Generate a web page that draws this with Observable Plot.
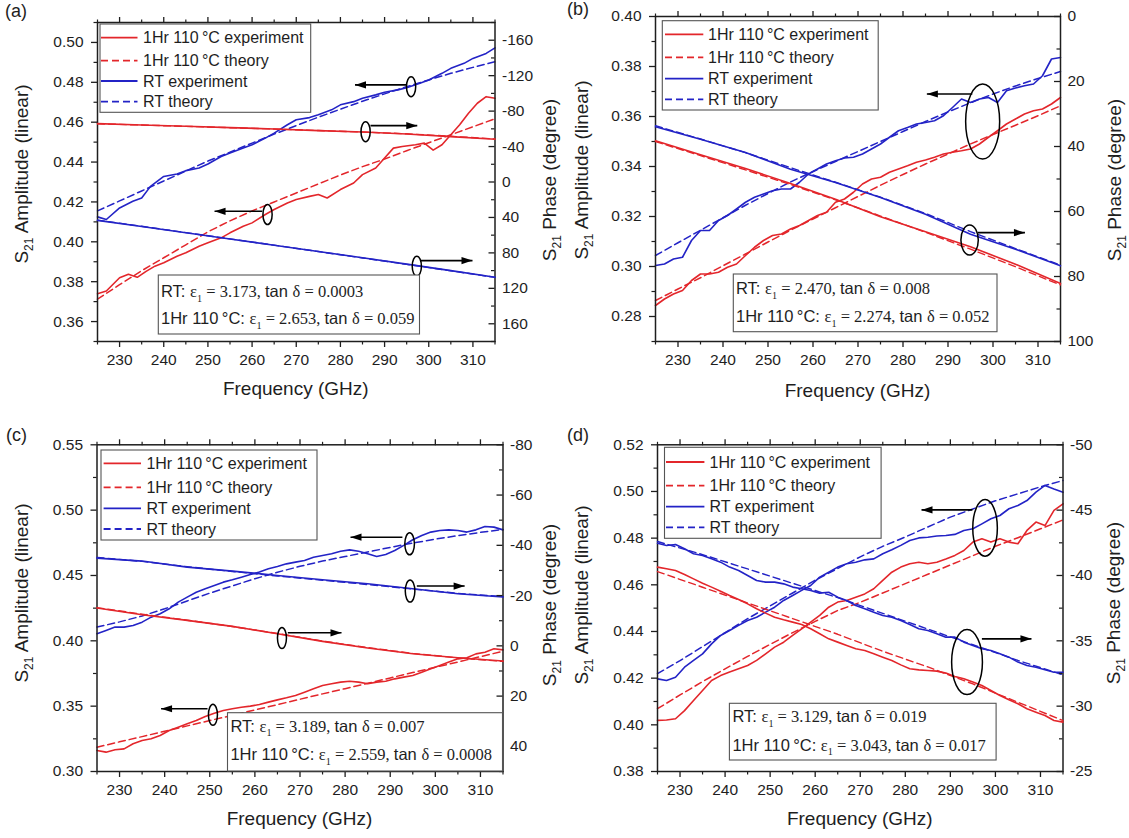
<!DOCTYPE html>
<html><head><meta charset="utf-8">
<script src="https://cdn.jsdelivr.net/npm/d3@7"></script>
<script src="https://cdn.jsdelivr.net/npm/@observablehq/plot@0.6"></script>
<style>
html,body{margin:0;padding:0;background:#fff;}
#root{position:relative;width:1129px;height:838px;overflow:hidden;background:#fff;}
#root svg{position:absolute;}
</style></head>
<body><div id="root"></div>
<script>
// ---------------- data ----------------
const freq2 = [225,227,229,231,233,235,237,239,241,243,245,247,249,251,253,255,257,259,261,263,265,267,269,271,273,275,277,279,281,283,285,287,289,291,293,295,297,299,301,303,305,307,309,311,313,315];
const freq5 = [225,230,235,240,245,250,255,260,265,270,275,280,285,290,295,300,305,310,315];
const freq10 = [225,235,245,255,265,275,285,295,305,315];

// panel (a)
const aRtExpF = [225,227,230,233,235,237,240,243,245,248,250,253,255,258,260,263,265,268,270,273,275,278,280,283,285,288,290,293,295,298,300,303,305,308,310,313,315];
const aRtAmpExp = [0.4125,0.4112,0.417,0.4203,0.422,0.4278,0.4328,0.434,0.4357,0.437,0.439,0.4428,0.4445,0.447,0.4487,0.452,0.4545,0.4587,0.4612,0.4623,0.4637,0.4662,0.4687,0.4703,0.472,0.4737,0.475,0.4762,0.4773,0.4795,0.4812,0.4845,0.487,0.4895,0.492,0.4945,0.4973];
const aHtExpF = [225,227,230,232,234,236,238,240,243,245,248,250,253,255,258,260,263,265,268,270,273,275,277,280,283,285,288,290,292,294,297,299,301,303,305,307,309,311,313,315];
const aHtAmpExp = [0.374,0.3753,0.382,0.3837,0.3822,0.3852,0.3878,0.3895,0.3928,0.3945,0.3978,0.3995,0.402,0.4045,0.4078,0.4095,0.4137,0.4162,0.4195,0.4212,0.4228,0.4237,0.422,0.4262,0.4295,0.4337,0.437,0.442,0.447,0.4478,0.4487,0.4495,0.446,0.4487,0.4537,0.4587,0.4645,0.4695,0.4728,0.472];
const aRtAmpThe = [0.4155,0.4205,0.4255,0.4305,0.4355,0.4405,0.445,0.4495,0.454,0.4583,0.4625,0.4665,0.4705,0.4742,0.4778,0.4812,0.4845,0.4875,0.4903];
const aHtAmpThe = [0.3712,0.3785,0.3855,0.392,0.3985,0.405,0.4105,0.4155,0.42,0.4245,0.429,0.4335,0.4377,0.4415,0.4457,0.4497,0.4537,0.4577,0.4617];
const aRtPhaExp = [43.3,50.2,57.2,64.3,71.3,78.4,85.5,92.7,100.0,107.4];
const aRtPhaThe = [43.0,50.0,57.1,64.2,71.3,78.5,85.7,92.9,100.2,107.6];
const aHtPhaExp = [-65.85,-64.35,-62.85,-61.35,-59.85,-57.97,-56.47,-54.22,-51.22,-48.22];
const aHtPhaThe = [-65.7,-64.3,-62.8,-61.3,-59.8,-58.1,-56.4,-54.4,-51.6,-48.6];

// panel (b)
const bRtAmpExp = [0.3004,0.301,0.303,0.3037,0.3104,0.3144,0.3144,0.3184,0.3204,0.323,0.3257,0.3277,0.329,0.3303,0.331,0.331,0.3337,0.337,0.339,0.341,0.3423,0.3434,0.3437,0.345,0.347,0.349,0.3517,0.3543,0.3556,0.357,0.3576,0.3583,0.3603,0.3636,0.367,0.3656,0.367,0.3676,0.3656,0.3703,0.3714,0.3723,0.373,0.3763,0.383,0.3836];
const bHtAmpExp = [0.2844,0.287,0.289,0.2904,0.2944,0.297,0.297,0.2977,0.2997,0.301,0.3044,0.3077,0.3104,0.3124,0.313,0.315,0.3164,0.3184,0.3204,0.3217,0.3257,0.327,0.3297,0.333,0.335,0.3357,0.3377,0.339,0.3403,0.3417,0.3426,0.3437,0.345,0.3457,0.3463,0.347,0.349,0.3517,0.3543,0.357,0.359,0.361,0.3623,0.363,0.365,0.3676];
const bRtAmpThe = [0.3044,0.3095,0.3145,0.3195,0.3245,0.3292,0.3338,0.338,0.342,0.346,0.35,0.354,0.358,0.3618,0.3655,0.369,0.3722,0.3752,0.378];
const bHtAmpThe = [0.2864,0.291,0.2955,0.3003,0.305,0.3098,0.3145,0.319,0.3235,0.328,0.3325,0.3368,0.341,0.345,0.349,0.3528,0.3565,0.3603,0.3643];
const bRtPhaExp = [33.95,37.74,41.85,46.97,51.08,55.69,60.82,66.97,71.59,76.72];
const bRtPhaThe = [33.6,37.7,41.9,46.5,51.0,55.6,60.6,66.2,71.4,76.5];
const bHtPhaExp = [38.26,42.56,46.77,51.38,56.21,61.64,66.26,70.87,76.21,82.15];
const bHtPhaThe = [38.5,42.8,47.2,51.7,56.4,61.4,66.4,71.6,77.0,82.6];

// panel (c)
const cRtAmpExp = [0.4054,0.4079,0.4105,0.4105,0.4117,0.4143,0.4181,0.4207,0.4245,0.4296,0.4334,0.4372,0.4398,0.4423,0.4449,0.4467,0.4487,0.4508,0.4526,0.4551,0.4569,0.4589,0.4602,0.4615,0.464,0.4653,0.4666,0.4686,0.4696,0.4686,0.4666,0.4645,0.4661,0.4691,0.473,0.4773,0.4806,0.4832,0.4844,0.4849,0.4844,0.4832,0.4849,0.4875,0.487,0.4849];
const cHtAmpExp = [0.3161,0.3148,0.3166,0.3173,0.3212,0.3237,0.325,0.3276,0.3314,0.3339,0.3365,0.339,0.3421,0.3446,0.3467,0.348,0.3492,0.35,0.3513,0.3531,0.3548,0.3564,0.3582,0.3607,0.3633,0.3658,0.3671,0.3684,0.3691,0.3684,0.3671,0.3684,0.3691,0.3709,0.3722,0.3735,0.376,0.3786,0.3811,0.3837,0.3862,0.387,0.39,0.3913,0.3939,0.3931];
const cRtAmpThe = [0.4105,0.4145,0.419,0.4245,0.4305,0.4365,0.442,0.4475,0.4525,0.457,0.461,0.4645,0.468,0.4715,0.4748,0.4778,0.4805,0.483,0.4852];
const cHtAmpThe = [0.3186,0.3227,0.3267,0.3308,0.3349,0.339,0.343,0.3471,0.3512,0.3553,0.3594,0.3634,0.3675,0.3716,0.3757,0.3797,0.3838,0.3879,0.392];
const cRtPhaExp = [-34.92,-33.73,-31.34,-29.75,-28.02,-26.3,-24.71,-22.72,-20.73,-19.41];
const cRtPhaThe = [-35.2,-33.6,-31.5,-29.6,-27.8,-26.1,-24.4,-22.6,-20.9,-19.6];
const cHtPhaExp = [-15.03,-12.38,-10.12,-7.74,-4.82,-1.77,0.88,3.13,4.73,6.05];
const cHtPhaThe = [-15.2,-12.6,-10.2,-7.7,-4.9,-1.9,0.7,3.0,4.8,6.2];

// panel (d)
const dRtAmpExp = [0.4197,0.419,0.4204,0.4247,0.4276,0.4304,0.4347,0.4383,0.4404,0.4426,0.4447,0.4461,0.4483,0.4504,0.4533,0.4554,0.4576,0.4597,0.4633,0.4654,0.4676,0.469,0.4697,0.4707,0.4711,0.4733,0.475,0.4769,0.479,0.4801,0.4804,0.4809,0.4811,0.4816,0.4833,0.484,0.4861,0.4883,0.4897,0.4926,0.494,0.4961,0.4997,0.5026,0.5011,0.4997];
const dHtAmpExp = [0.4019,0.4021,0.4026,0.4061,0.4104,0.4147,0.419,0.4211,0.4226,0.424,0.4254,0.4276,0.4304,0.4333,0.4354,0.4383,0.4411,0.444,0.4469,0.4504,0.4526,0.4533,0.4547,0.4561,0.4583,0.4619,0.4654,0.4676,0.469,0.4697,0.469,0.4697,0.4711,0.4726,0.4747,0.4783,0.4797,0.4783,0.4797,0.4783,0.4776,0.4833,0.4869,0.4854,0.4919,0.4947];
const dRtAmpThe = [0.4219,0.4275,0.4335,0.4395,0.4455,0.451,0.4565,0.462,0.467,0.472,0.4765,0.4805,0.4848,0.489,0.4925,0.496,0.499,0.502,0.5047];
const dHtAmpThe = [0.4069,0.4128,0.4185,0.424,0.4293,0.4345,0.4395,0.4443,0.449,0.4525,0.4565,0.4605,0.4645,0.4685,0.4725,0.4765,0.4802,0.484,0.4878];
const dRtPhaExp = [-42.47,-42.30,-42.37,-42.04,-41.66,-41.53,-41.28,-41.02,-40.64,-40.38,-40.00,-39.62,-39.49,-39.49,-39.36,-39.11,-38.98,-38.85,-38.65,-38.72,-38.34,-38.09,-37.70,-37.45,-37.19,-36.94,-36.81,-36.56,-36.25,-35.92,-35.79,-35.54,-35.28,-35.28,-34.90,-34.64,-34.39,-34.26,-34.01,-33.75,-33.37,-33.11,-32.98,-32.78,-32.60,-32.60];
const dRtPhaThe = [-42.6,-41.6,-40.5,-39.4,-38.3,-37.1,-35.9,-34.7,-33.5,-32.4];
const dHtPhaExp = [-40.64,-40.51,-40.38,-40.08,-39.74,-39.41,-39.11,-38.80,-38.47,-38.16,-37.83,-37.45,-37.12,-36.81,-36.61,-36.43,-36.25,-35.92,-35.54,-35.15,-34.90,-34.64,-34.39,-34.26,-34.01,-33.75,-33.49,-33.16,-32.86,-32.78,-32.73,-32.68,-32.53,-32.27,-32.09,-31.84,-31.58,-31.20,-30.82,-30.49,-30.18,-29.80,-29.54,-29.29,-28.90,-28.78];
const dHtPhaThe = [-40.3,-39.1,-37.9,-36.7,-35.5,-34.2,-33.0,-31.7,-30.3,-28.9];

// tick values
const xMajor = [230,240,250,260,270,280,290,300,310];
const xMinor = [225,235,245,255,265,275,285,295,305,315];
const aAmpMajor = [0.36,0.38,0.40,0.42,0.44,0.46,0.48,0.50];
const aAmpMinor = [0.35,0.37,0.39,0.41,0.43,0.45,0.47,0.49,0.51];
const aPhaMajor = [-160,-120,-80,-40,0,40,80,120,160];
const aPhaMinor = [-180,-140,-100,-60,-20,20,60,100,140,180];
const bAmpMajor = [0.28,0.30,0.32,0.34,0.36,0.38,0.40];
const bAmpMinor = [0.27,0.29,0.31,0.33,0.35,0.37,0.39];
const bPhaMajor = [0,20,40,60,80,100];
const bPhaMinor = [10,30,50,70,90];
const cAmpMajor = [0.30,0.35,0.40,0.45,0.50,0.55];
const cAmpMinor = [0.325,0.375,0.425,0.475,0.525];
const cPhaMajor = [-80,-60,-40,-20,0,20,40];
const cPhaMinor = [-70,-50,-30,-10,10,30,50];
const dAmpMajor = [0.38,0.40,0.42,0.44,0.46,0.48,0.50,0.52];
const dAmpMinor = [0.39,0.41,0.43,0.45,0.47,0.49,0.51];
const dPhaMajor = [-50,-45,-40,-35,-30,-25];
const dPhaMinor = [-47.5,-42.5,-37.5,-32.5,-27.5];

// fitted parameters shown in the boxes [eps1, tan delta]
const aParams = [["3.173","0.0003"],["2.653","0.059"]];
const bParams = [["2.470","0.008"],["2.274","0.052"]];
const cParams = [["3.189","0.007"],["2.559","0.0008"]];
const dParams = [["3.129","0.019"],["3.043","0.017"]];

const legendLabels = ["1Hr 110\u2009\u00B0C experiment","1Hr 110\u2009\u00B0C theory","RT experiment","RT theory"];

// annotations in data units: ellipse centre (x, y on amp or phase axis), arrow from x1 to x2 at ya
const aNotes = [
  {axis:"amp", x:296, y:0.4778, rx:4.6, ry:10, x1:295, x2:283.3, ya:0.4787},
  {axis:"pha", x:285.7, y:-56.8, rx:4.6, ry:10, x1:286.8, x2:297.4, ya:-63.6},
  {axis:"amp", x:263.5, y:0.4137, rx:4.6, ry:10, x1:262.3, x2:251.5, ya:0.4153},
  {axis:"pha", x:297.3, y:95, rx:4.6, ry:10, x1:298.2, x2:309.9, ya:88.7}
];
const bNotes = [
  {axis:"amp", x:297.7, y:0.358, rx:17, ry:37.5, x1:295.4, x2:285.3, ya:0.369},
  {axis:"pha", x:294.8, y:68.8, rx:8.7, ry:15, x1:296.6, x2:307.1, ya:66.5}
];
const cNotes = [
  {axis:"amp", x:250.7, y:0.3434, rx:4.5, ry:10.5, x1:249.5, x2:239.2, ya:0.348},
  {axis:"pha", x:266, y:-3.1, rx:4.5, ry:10.5, x1:267.3, x2:279.2, ya:-5.2},
  {axis:"amp", x:294.3, y:0.4742, rx:4.8, ry:11, x1:292.7, x2:281.2, ya:0.4793},
  {axis:"pha", x:294.4, y:-21.8, rx:4.8, ry:11, x1:295.9, x2:306.5, ya:-23.8}
];
const dNotes = [
  {axis:"amp", x:297.7, y:0.4844, rx:12.3, ry:28.3, x1:294.9, x2:283.6, ya:0.4921},
  {axis:"pha", x:293.7, y:-33.37, rx:15.4, ry:32.5, x1:297, x2:308, ya:-35.15}
];

// ---------------- layout & style ----------------
const SANS = '"Liberation Sans", Arial, Helvetica, sans-serif';
const SERIF = '"Liberation Serif", "Times New Roman", serif';
const INK = "#1e1e1e";
const RED = "#e3262b";
const BLUE = "#2323c6";
const DASH = "7,4";
const X_DOMAIN = [225, 315];

function series(xs, ys) { return xs.map((x, i) => ({x, y: ys[i]})); }

const panels = [
  {name:"(a)", box:{left:0, top:0, width:565, height:420}, frame:{l:97, r:494.5, t:22, b:341},
   ampDomain:[0.35,0.51], phaDomain:[180,-180],
   ampMajor:aAmpMajor, ampMinor:aAmpMinor, phaMajor:aPhaMajor, phaMinor:aPhaMinor,
   rtAmpExp:series(aRtExpF, aRtAmpExp), htAmpExp:series(aHtExpF, aHtAmpExp),
   rtAmpThe:series(freq5, aRtAmpThe), htAmpThe:series(freq5, aHtAmpThe),
   rtPhaExp:series(freq10, aRtPhaExp), rtPhaThe:series(freq10, aRtPhaThe),
   htPhaExp:series(freq10, aHtPhaExp), htPhaThe:series(freq10, aHtPhaThe),
   notes:aNotes, params:aParams,
   label:{x:5, y:17}, yTitleL:{x:28, y:174}, yTitleR:{x:556, y:180}, xTitleY:395,
   legend:{x0:100, x1:310.7, y0:24, y1:112.3, rows:[37.7,60.7,81,101.7], lx0:101, lx1:137.5, tx:143},
   pbox:{x0:158.3, x1:419.5, y0:275, y1:334, tx:161, rows:[297,324]}},
  {name:"(b)", box:{left:565, top:0, width:564, height:420}, frame:{l:655, r:1060, t:16, b:341},
   ampDomain:[0.27,0.40], phaDomain:[100,0],
   ampMajor:bAmpMajor, ampMinor:bAmpMinor, phaMajor:bPhaMajor, phaMinor:bPhaMinor,
   rtAmpExp:series(freq2, bRtAmpExp), htAmpExp:series(freq2, bHtAmpExp),
   rtAmpThe:series(freq5, bRtAmpThe), htAmpThe:series(freq5, bHtAmpThe),
   rtPhaExp:series(freq10, bRtPhaExp), rtPhaThe:series(freq10, bRtPhaThe),
   htPhaExp:series(freq10, bHtPhaExp), htPhaThe:series(freq10, bHtPhaThe),
   notes:bNotes, params:bParams,
   label:{x:567, y:15}, yTitleL:{x:588, y:170}, yTitleR:{x:1121, y:180}, xTitleY:397,
   legend:{x0:662.3, x1:878.2, y0:20.7, y1:110, rows:[34.3,57.3,78.7,99.3], lx0:665, lx1:703.3, tx:708},
   pbox:{x0:733.3, x1:997, y0:274, y1:331.7, tx:736, rows:[294,322]}},
  {name:"(c)", box:{left:0, top:420, width:565, height:418}, frame:{l:96.5, r:502.5, t:444.3, b:771},
   ampDomain:[0.30,0.55], phaDomain:[50,-80],
   ampMajor:cAmpMajor, ampMinor:cAmpMinor, phaMajor:cPhaMajor, phaMinor:cPhaMinor,
   rtAmpExp:series(freq2, cRtAmpExp), htAmpExp:series(freq2, cHtAmpExp),
   rtAmpThe:series(freq5, cRtAmpThe), htAmpThe:series(freq5, cHtAmpThe),
   rtPhaExp:series(freq10, cRtPhaExp), rtPhaThe:series(freq10, cRtPhaThe),
   htPhaExp:series(freq10, cHtPhaExp), htPhaThe:series(freq10, cHtPhaThe),
   notes:cNotes, params:cParams,
   label:{x:6, y:441}, yTitleL:{x:28, y:593}, yTitleR:{x:556, y:605}, xTitleY:825,
   legend:{x0:101, x1:317, y0:450, y1:540, rows:[463.3,487.3,508.3,529], lx0:103.6, lx1:141, tx:146.4},
   pbox:{x0:227.5, x1:502.5, y0:712.7, y1:771, tx:230.4, rows:[731.5,760]}},
  {name:"(d)", box:{left:565, top:420, width:564, height:418}, frame:{l:657, r:1062.5, t:444.3, b:771},
   ampDomain:[0.38,0.52], phaDomain:[-25,-50],
   ampMajor:dAmpMajor, ampMinor:dAmpMinor, phaMajor:dPhaMajor, phaMinor:dPhaMinor,
   rtAmpExp:series(freq2, dRtAmpExp), htAmpExp:series(freq2, dHtAmpExp),
   rtAmpThe:series(freq5, dRtAmpThe), htAmpThe:series(freq5, dHtAmpThe),
   rtPhaExp:series(freq2, dRtPhaExp), rtPhaThe:series(freq10, dRtPhaThe),
   htPhaExp:series(freq2, dHtPhaExp), htPhaThe:series(freq10, dHtPhaThe),
   notes:dNotes, params:dParams,
   label:{x:567, y:441}, yTitleL:{x:588, y:595}, yTitleR:{x:1120, y:603}, xTitleY:825,
   legend:{x0:664.5, x1:881.1, y0:447.3, y1:538.3, rows:[462,485.7,506.7,527.3], lx0:666, lx1:704.4, tx:709.5},
   pbox:{x0:729.4, x1:996.1, y0:703.3, y1:760, tx:732.4, rows:[722,750.5]}}
];

// custom symbols
function ellipseSymbol(rx, ry) {
  return {draw(ctx) {
    const k = 0.5523;
    ctx.moveTo(rx, 0);
    ctx.bezierCurveTo(rx, k*ry, k*rx, ry, 0, ry);
    ctx.bezierCurveTo(-k*rx, ry, -rx, k*ry, -rx, 0);
    ctx.bezierCurveTo(-rx, -k*ry, -k*rx, -ry, 0, -ry);
    ctx.bezierCurveTo(k*rx, -ry, rx, -k*ry, rx, 0);
    ctx.closePath();
  }};
}
function headSymbol(dir) {
  return {draw(ctx) {
    ctx.moveTo(0, 0);
    ctx.lineTo(-dir*11, -3.6);
    ctx.lineTo(-dir*11, 3.6);
    ctx.closePath();
  }};
}

function noteMarks(notes, axis) {
  const out = [];
  for (const n of notes.filter(n => n.axis === axis)) {
    out.push(Plot.dot([n], {x:"x", y:"y", r:5, symbol:ellipseSymbol(n.rx, n.ry), fill:"none", stroke:"#000", strokeWidth:1.5}));
    out.push(Plot.link([n], {x1:"x1", x2:"x2", y1:"ya", y2:"ya", stroke:"#000", strokeWidth:1.6}));
    const dir = n.x2 > n.x1 ? 1 : -1;
    out.push(Plot.dot([n], {x:"x2", y:"ya", r:5, symbol:headSymbol(dir), fill:"#000", stroke:"none"}));
  }
  return out;
}

const root = document.getElementById("root");
const fmt2 = d3.format(".2f");
const fmt3 = d3.format(".3f");

for (const p of panels) {
  const {left, top, width, height} = p.box;
  const mL = p.frame.l - left, mR = left + width - p.frame.r;
  const mT = p.frame.t - top, mB = top + height - p.frame.b;
  const innerW = p.frame.r - p.frame.l;
  const common = {
    width, height, marginLeft:mL, marginRight:mR, marginTop:mT, marginBottom:mB,
    style:{background:"transparent", fontFamily:SANS, fontSize:"15.5px", color:INK, overflow:"visible"}
  };
  const ampFmt = p.ampMajor.some(v => Math.abs(v*100 - Math.round(v*100)) > 1e-6) ? fmt3 : fmt2;

  const amp = Plot.plot({
    ...common,
    x:{domain:X_DOMAIN, axis:null},
    y:{domain:p.ampDomain, axis:null},
    marks:[
      Plot.line(p.htAmpThe, {x:"x", y:"y", stroke:RED, strokeWidth:1.5, strokeDasharray:DASH}),
      Plot.line(p.rtAmpThe, {x:"x", y:"y", stroke:BLUE, strokeWidth:1.5, strokeDasharray:DASH}),
      Plot.line(p.htAmpExp, {x:"x", y:"y", stroke:RED, strokeWidth:1.6}),
      Plot.line(p.rtAmpExp, {x:"x", y:"y", stroke:BLUE, strokeWidth:1.6}),
      Plot.axisX(xMajor, {anchor:"bottom", tickSize:6, tickPadding:6, tickFormat:d => String(d), label:null, strokeWidth:1.3}),
      Plot.axisX(xMinor, {anchor:"bottom", tickSize:3.5, tickFormat:() => "", label:null, strokeWidth:1.2}),
      Plot.axisX(xMajor, {anchor:"top", tickSize:6, tickFormat:() => "", label:null, strokeWidth:1.3}),
      Plot.axisX(xMinor, {anchor:"top", tickSize:3.5, tickFormat:() => "", label:null, strokeWidth:1.2}),
      Plot.axisY(p.ampMajor, {anchor:"left", tickSize:6, tickPadding:8, tickFormat:ampFmt, label:null, strokeWidth:1.3}),
      Plot.axisY(p.ampMinor, {anchor:"left", tickSize:3.5, tickFormat:() => "", label:null, strokeWidth:1.2}),
      Plot.frame({stroke:INK, strokeWidth:1.5}),
      ...noteMarks(p.notes, "amp")
    ]
  });
  amp.style.left = left + "px"; amp.style.top = top + "px";
  root.appendChild(amp);

  const pha = Plot.plot({
    ...common,
    x:{domain:X_DOMAIN, axis:null},
    y:{domain:p.phaDomain, axis:null},
    marks:[
      Plot.line(p.htPhaThe, {x:"x", y:"y", stroke:RED, strokeWidth:1.4, strokeDasharray:DASH}),
      Plot.line(p.rtPhaThe, {x:"x", y:"y", stroke:BLUE, strokeWidth:1.4, strokeDasharray:DASH}),
      Plot.line(p.htPhaExp, {x:"x", y:"y", stroke:RED, strokeWidth:1.6}),
      Plot.line(p.rtPhaExp, {x:"x", y:"y", stroke:BLUE, strokeWidth:1.6}),
      Plot.axisY(p.phaMajor, {anchor:"right", tickSize:0, tickPadding:7, tickFormat:d => String(d), label:null}),
      Plot.tickY(p.phaMajor, {y:d => d, insetLeft:innerW - 6, stroke:INK, strokeWidth:1.3}),
      Plot.tickY(p.phaMinor, {y:d => d, insetLeft:innerW - 3.5, stroke:INK, strokeWidth:1.2}),
      ...noteMarks(p.notes, "pha")
    ]
  });
  pha.style.left = left + "px"; pha.style.top = top + "px";
  root.appendChild(pha);
}

// ---------------- overlay: titles, legends, parameter boxes ----------------
const ov = d3.select(root).append("svg")
  .attr("width", 1129).attr("height", 838)
  .style("left", "0px").style("top", "0px")
  .attr("font-family", SANS).attr("fill", INK);

function richText(sel, parts, size) {
  let off = 0;
  for (const [txt, kind] of parts) {
    const t = sel.append("tspan").text(txt)
      .attr("font-family", kind === "s" ? SANS : SERIF);
    const want = kind === "b" ? size * 0.3 : 0;
    if (want !== off) { t.attr("dy", want - off); off = want; }
    if (kind === "b") t.attr("font-size", size * 0.62);
  }
}

for (const p of panels) {
  // panel label
  ov.append("text").attr("x", p.label.x).attr("y", p.label.y).attr("font-size", 18).text(p.name);

  // axis titles
  const fx = (p.frame.l + p.frame.r) / 2;
  ov.append("text").attr("x", fx).attr("y", p.xTitleY).attr("text-anchor", "middle")
    .attr("font-size", 19).text("Frequency (GHz)");
  const tl = ov.append("text").attr("text-anchor", "middle").attr("font-size", 19)
    .attr("transform", `translate(${p.yTitleL.x},${p.yTitleL.y}) rotate(-90)`);
  tl.append("tspan").text("S");
  tl.append("tspan").text("21").attr("font-size", 12).attr("dy", 5);
  tl.append("tspan").text(" Amplitude (linear)").attr("dy", -5);
  const tr = ov.append("text").attr("text-anchor", "middle").attr("font-size", 19)
    .attr("transform", `translate(${p.yTitleR.x},${p.yTitleR.y}) rotate(-90)`);
  tr.append("tspan").text("S");
  tr.append("tspan").text("21").attr("font-size", 12).attr("dy", 5);
  tr.append("tspan").text(" Phase (degree)").attr("dy", -5);

  // legend
  const L = p.legend;
  ov.append("rect").attr("x", L.x0).attr("y", L.y0).attr("width", L.x1 - L.x0).attr("height", L.y1 - L.y0)
    .attr("fill", "#fff").attr("stroke", "#555").attr("stroke-width", 1.1);
  const styles = [[RED, null], [RED, DASH], [BLUE, null], [BLUE, DASH]];
  legendLabels.forEach((lab, i) => {
    const y = L.rows[i];
    ov.append("line").attr("x1", L.lx0).attr("x2", L.lx1).attr("y1", y).attr("y2", y)
      .attr("stroke", styles[i][0]).attr("stroke-width", 1.8)
      .attr("stroke-dasharray", styles[i][1]);
    ov.append("text").attr("x", L.tx).attr("y", y + 5.6).attr("font-size", 16).text(lab);
  });

  // parameter box
  const B = p.pbox;
  ov.append("rect").attr("x", B.x0).attr("y", B.y0).attr("width", B.x1 - B.x0).attr("height", B.y1 - B.y0)
    .attr("fill", "#fff").attr("stroke", "#555").attr("stroke-width", 1.1);
  const prefixes = ["RT: ", "1Hr 110\u2009\u00B0C: "];
  p.params.forEach(([eps, tan], i) => {
    const t = ov.append("text").attr("x", B.tx).attr("y", B.rows[i]).attr("font-size", 16.5);
    richText(t, [[prefixes[i], "s"], ["\u03B5", "r"], ["1", "b"], [" = " + eps + ", ", "r"], ["tan ", "s"], ["\u03B4 = " + tan, "r"]], 16.5);
  });
}
</script>
</body></html>
